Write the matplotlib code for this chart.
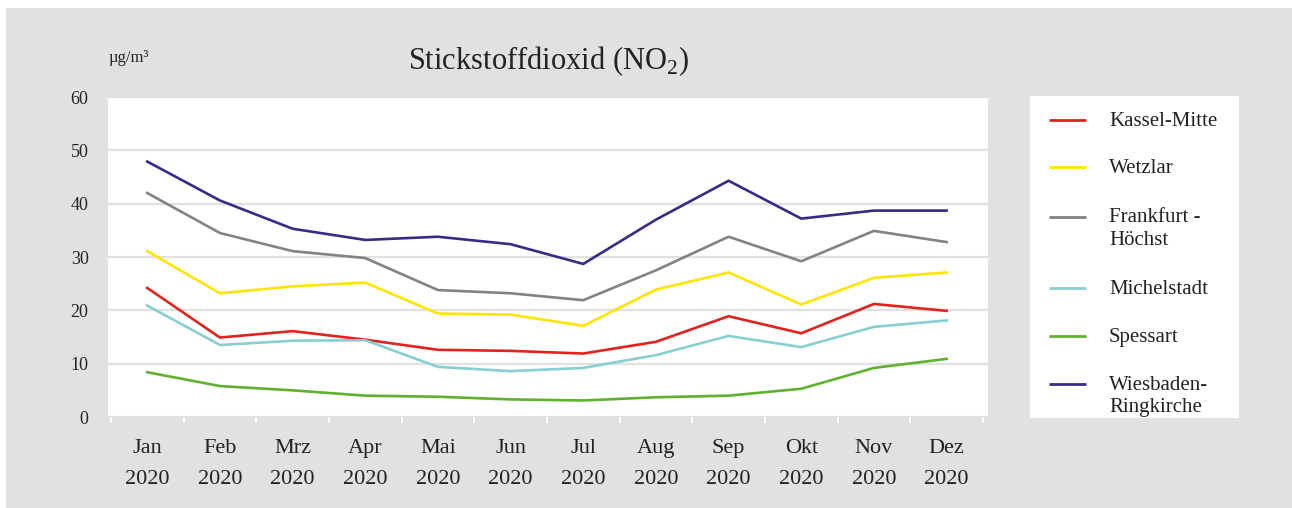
import numpy as np
import matplotlib
matplotlib.use("Agg")
import matplotlib.pyplot as plt
from matplotlib.patches import Rectangle

plt.rcParams['font.family'] = ['Liberation Serif', 'DejaVu Serif']
plt.rcParams['mathtext.fontset'] = 'custom'
plt.rcParams['mathtext.rm'] = 'Liberation Serif'

# Monthly NO2 means 2020 (µg/m³)
months = ["Jan", "Feb", "Mrz", "Apr", "Mai", "Jun", "Jul", "Aug", "Sep", "Okt", "Nov", "Dez"]
year = "2020"
kassel_mitte = [24.2, 14.9, 16.1, 14.5, 12.6, 12.4, 11.9, 14.1, 18.9, 15.7, 21.2, 19.9]
wetzlar = [31.1, 23.2, 24.5, 25.2, 19.4, 19.2, 17.1, 23.9, 27.1, 21.1, 26.1, 27.1]
frankfurt_hoechst = [42.0, 34.5, 31.1, 29.8, 23.8, 23.2, 21.9, 27.5, 33.8, 29.2, 34.9, 32.8]
michelstadt = [20.9, 13.5, 14.3, 14.4, 9.4, 8.6, 9.2, 11.6, 15.2, 13.1, 16.9, 18.1]
spessart = [8.4, 5.8, 5.0, 4.0, 3.8, 3.3, 3.1, 3.7, 4.0, 5.3, 9.2, 10.9]
wiesbaden_ringkirche = [47.9, 40.6, 35.3, 33.2, 33.8, 32.4, 28.7, 37.0, 44.3, 37.2, 38.7, 38.7]

series = [
    ("Kassel-Mitte", kassel_mitte, "#e3231b"),
    ("Wetzlar", wetzlar, "#ffe600"),
    ("Frankfurt -\nHöchst", frankfurt_hoechst, "#838383"),
    ("Michelstadt", michelstadt, "#88cfd1"),
    ("Spessart", spessart, "#5fb12e"),
    ("Wiesbaden-\nRingkirche", wiesbaden_ringkirche, "#3a2a87"),
]

bg = "#e1e1e1"
txt = "#222222"

fig = plt.figure(figsize=(12.92, 5.08), dpi=100)
fig.patch.set_facecolor("white")
fig.patches.append(Rectangle((6 / 1292, 0), 1, 1 - 8 / 508, transform=fig.transFigure,
                             facecolor=bg, edgecolor="none", zorder=-10))

ax = fig.add_axes([108 / 1292, 1 - 417 / 508, 880 / 1292, 320 / 508])
ax.set_facecolor("white")
x = np.arange(len(months))
for label, vals, color in series:
    ax.plot(x, vals, color=color, lw=1.9, solid_joinstyle="miter")

ax.set_ylim(0, 60)
ax.set_xlim(-0.54, 11.57)
ax.set_yticks(range(0, 61, 10))
ax.set_xticks(x)
ax.set_xticklabels([f"{m}\n{year}" for m in months], linespacing=1.85)
ax.set_xticks(np.arange(-0.5, 12, 1), minor=True)
ax.tick_params(axis="x", which="major", length=0, pad=16, labelsize=16, labelcolor=txt)
ax.tick_params(axis="x", which="minor", length=4, width=1.5, color="white", direction="out")
ax.tick_params(axis="y", length=0, pad=14, labelsize=13, labelcolor=txt)
ax.grid(axis="y", color=bg, lw=1.6)
ax.set_axisbelow(True)
for s in ax.spines.values():
    s.set_visible(False)

ax.set_title("Stickstoffdioxid (NO$_\\mathrm{2}$)", fontsize=22, color=txt, pad=20)
fig.text(109 / 1292, 1 - 58 / 508, "µg/m³", fontsize=12, color=txt, va="center", ha="left")

# legend box (drawn in pixel-like coordinates of its own panel)
lax = fig.add_axes([1030 / 1292, 1 - 418 / 508, 209 / 1292, 322 / 508])
lax.set_facecolor("white")
lax.set_xlim(0, 209)
lax.set_ylim(322, 0)
lax.set_xticks([])
lax.set_yticks([])
for s in lax.spines.values():
    s.set_visible(False)
first_baselines = [30, 77, 127, 198, 246, 294]
pitch = 22
for (label, vals, color), yb in zip(series, first_baselines):
    nlines = label.count("\n") + 1
    lax.plot([19, 56], [yb - 6, yb - 6], color=color, lw=2.0, solid_capstyle="butt")
    lax.text(79, yb + pitch * (nlines - 1), label, fontsize=15, color=txt,
             va="baseline", ha="left", linespacing=1.25)

fig.savefig("out.png", dpi=100)
